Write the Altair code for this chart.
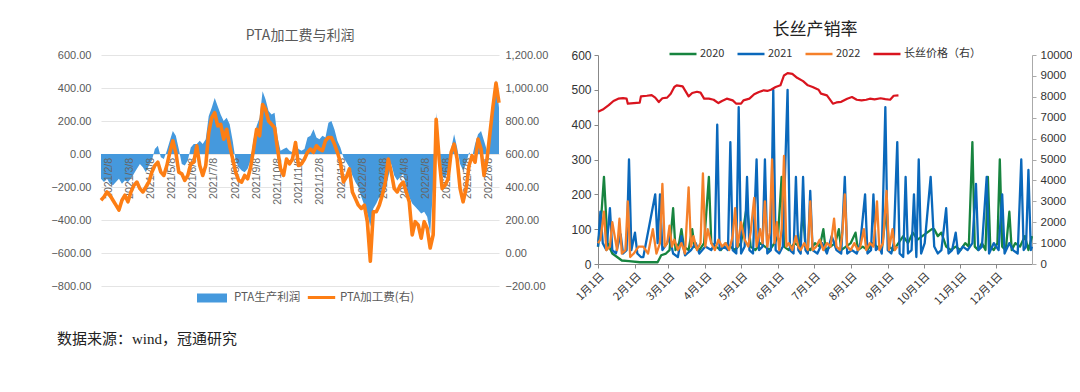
import altair as alt
import pandas as pd

FONT = "Liberation Sans, Noto Sans CJK SC, sans-serif"
CJK = "Noto Sans CJK SC, Liberation Sans, sans-serif"

# ---------------- Left chart: PTA processing fee & profit ----------------
profit = [-150, -170, -150, -180, -190, -170, -150, -180, -160, -170,
          -150, -120, -90, -60, -80, -110, -70, -40, 30, 50,
          -20, -30, 20, 80, 140, 110, 30, -60, -70, -40,
          40, 60, 60, 80, 60, 90, 230, 280, 340, 290,
          240, 200, 220, 180, 80, -40, -80, -100, -110, -90,
          -40, 90, 170, 220, 380, 330, 260, 240, 250, 100,
          20, 30, 40, 20, 10, 60, 30, 20, 30,
          100, 110, 150, 100, 90, 110, 100, 190, 200, 150,
          80, 40, -20, -50, -80, -130, -170, -200, -260, -310,
          -360, -440, -330, -300, -260, -270, -220, -140, -60, -130,
          -160, -140, -120, -200, -260, -300, -320, -340, -360, -350,
          -380, -480, -200, 250, -60, -130, -150, -90, 30, 120,
          40, -60, -100, -60, 10, -20, 60, 120, 140, 80,
          20, 180, 300, 450, 280]

fee = [320, 340, 370, 350, 320, 290, 260, 320, 350, 310,
       370, 410, 430, 390, 370, 400, 430, 490, 530, 550,
       490, 470, 530, 610, 680, 610, 490, 480, 440, 470,
       540, 550, 650, 530, 470, 530, 730, 820, 850, 770,
       780, 690, 750, 650, 570, 490, 440, 430, 470, 450,
       520, 630, 750, 710, 900, 870, 800, 780, 760, 630,
       510, 470, 570, 540, 570, 670, 530, 540, 570,
       610, 630, 610, 650, 630, 620, 680, 700, 700, 660,
       610, 550, 430, 460, 510, 370, 330, 290, 270, 290,
       190, -50, 250, 250, 290, 350, 430, 570, 490, 390,
       370, 410, 430, 370, 310, 110, 190, 170, 90, 190,
       150, 30, 110, 810, 570, 390, 410, 450, 610, 660,
       570, 390, 310, 390, 530, 590, 550, 690, 630, 470,
       570, 730, 890, 1030, 910]

label_pos = [2.6, 9.7, 16.7, 23.8, 30.9, 37.9, 45.0, 52.1, 59.2, 66.2,
             73.3, 80.4, 87.4, 94.5, 101.6, 108.6, 115.7, 122.8, 129.8]
label_text = ["2021/2/8", "2021/3/8", "2021/4/8", "2021/5/8", "2021/6/8",
              "2021/7/8", "2021/8/8", "2021/9/8", "2021/10/8", "2021/11/8",
              "2021/12/8", "2022/1/8", "2022/2/8", "2022/3/8", "2022/4/8",
              "2022/5/8", "2022/6/8", "2022/7/8", "2022/8/8"]

left_ticks = [-800, -600, -400, -200, 0, 200, 400, 600]
right_ticks = [-200, 0, 200, 400, 600, 800, 1000, 1200]

profit_df = pd.DataFrame({"i": list(range(len(profit))), "v": profit, "s": "PTA生产利润"})
fee_df = pd.DataFrame({"i": list(range(len(fee))), "v": fee, "s": "PTA加工费(右)"})
lab_df = pd.DataFrame({"i": label_pos, "t": label_text, "v": 0})

xl_scale = alt.Scale(domain=[0, 133], nice=False, zero=False)
yl_scale = alt.Scale(domain=[-800, 600], nice=False)

area = alt.Chart(profit_df).mark_area(opacity=1).encode(
    x=alt.X("i:Q", scale=xl_scale, axis=None),
    y=alt.Y("v:Q", scale=yl_scale,
            axis=alt.Axis(orient="left", values=left_ticks, format=".2f", title=None,
                          domain=False, ticks=False, grid=True, gridColor="#e4e4e4",
                          gridWidth=1.2, labelColor="#595959", labelFontSize=11,
                          labelPadding=10, labelFont=FONT, labelOverlap=False)),
    color=alt.Color("s:N", scale=alt.Scale(range=["#4599dd"]),
                    legend=alt.Legend(orient="none", legendX=95, legendY=227, title=None,
                                      symbolType="M-1,-0.3H1V0.3H-1Z", symbolSize=900,
                                      symbolOpacity=1, labelFontSize=11.5,
                                      labelColor="#595959", labelFont=CJK, labelOffset=6,
                                      padding=0)),
)

labels = alt.Chart(lab_df).mark_text(angle=270, align="right", baseline="middle", dx=-4,
                                     fontSize=10.5, color="#666666", font=FONT).encode(
    x=alt.X("i:Q", scale=xl_scale, axis=None),
    y=alt.Y("v:Q", scale=yl_scale, axis=None),
    text="t:N",
)

fee_line = alt.Chart(fee_df).mark_line(strokeWidth=3.6, strokeJoin="round").encode(
    x=alt.X("i:Q", scale=xl_scale, axis=None),
    y=alt.Y("v:Q", scale=alt.Scale(domain=[-200, 1200], nice=False),
            axis=alt.Axis(orient="right", values=right_ticks, format=",.2f", title=None,
                          domain=False, ticks=False, grid=False, labelColor="#595959",
                          labelFontSize=11, labelPadding=6, labelFont=FONT,
                          labelOverlap=False)),
    stroke=alt.Stroke("s:N", scale=alt.Scale(range=["#fd7e14"]),
                      legend=alt.Legend(orient="none", legendX=205, legendY=227, title=None,
                                        symbolType="stroke", symbolSize=750,
                                        symbolStrokeWidth=3, labelFontSize=11.5,
                                        labelColor="#595959", labelFont=CJK,
                                        labelOffset=3, padding=0)),
)

left = alt.layer(area, labels, fee_line).resolve_scale(
    y="independent", color="independent", stroke="independent"
).properties(
    width=398, height=231,
    title=alt.TitleParams("PTA加工费与利润", fontSize=14, color="#595959", font=CJK,
                          fontWeight="normal", offset=6),
)

# ---------------- Right chart: filament production/sales rate ----------------
s2020 = [(0, 50), (3, 150), (5, 250), (8, 60), (12, 30), (16, 20), (20, 10), (26, 8),
         (35, 5), (42, 5), (50, 5), (53, 25), (57, 30), (60, 40), (63, 160), (65, 40),
         (68, 60), (70, 100), (72, 50), (76, 40), (79, 100), (81, 50), (85, 40), (89, 60),
         (93, 250), (95, 60), (99, 50), (103, 40), (107, 60), (111, 50), (115, 40),
         (120, 60), (125, 170), (128, 50), (132, 40), (136, 60), (140, 50), (144, 40),
         (148, 60), (151, 80), (154, 250), (156, 50), (160, 40), (165, 60), (169, 50),
         (172, 150), (174, 50), (178, 40), (182, 60), (186, 50), (189, 100), (191, 40),
         (195, 50), (199, 60), (202, 100), (204, 40), (208, 50), (212, 60), (216, 90),
         (218, 40), (222, 50), (226, 40), (230, 60), (234, 50), (238, 40), (242, 160),
         (244, 50), (248, 40), (252, 60), (256, 80), (260, 60), (264, 90), (268, 70),
         (272, 80), (276, 90), (280, 100), (282, 100), (285, 80), (288, 90), (292, 50),
         (296, 40), (300, 50), (304, 40), (308, 60), (311, 50), (314, 350), (316, 50),
         (319, 40), (322, 60), (325, 40), (327, 250), (329, 50), (332, 40), (335, 60),
         (337, 300), (339, 50), (342, 40), (345, 150), (347, 40), (350, 60), (354, 50),
         (358, 80), (361, 40), (364, 80)]

s2021 = [(0, 50), (2, 150), (4, 60), (7, 40), (10, 160), (12, 40), (15, 30), (19, 85),
         (21, 30), (24, 40), (26, 300), (28, 40), (31, 90), (33, 30), (36, 20), (38, 20),
         (48, 200), (50, 60), (52, 200), (54, 40), (58, 60), (60, 80), (63, 30), (67, 20),
         (70, 80), (73, 25), (78, 40), (82, 60), (85, 30), (90, 50), (95, 40), (98, 60),
         (100, 400), (102, 40), (106, 50), (109, 40), (111, 350), (113, 40), (116, 30),
         (118, 450), (120, 30), (123, 50), (125, 250), (127, 40), (130, 30), (133, 300),
         (135, 40), (138, 50), (140, 300), (142, 30), (145, 40), (147, 500), (149, 40),
         (152, 30), (155, 50), (159, 500), (161, 40), (164, 30), (166, 250), (168, 40),
         (170, 30), (172, 250), (174, 40), (176, 30), (178, 210), (180, 40), (184, 30),
         (188, 60), (192, 30), (196, 80), (200, 40), (204, 30), (207, 250), (209, 30),
         (213, 40), (217, 30), (220, 60), (224, 200), (226, 30), (229, 40), (231, 200),
         (233, 40), (236, 50), (238, 30), (241, 450), (243, 40), (246, 30), (248, 60),
         (251, 350), (253, 30), (256, 20), (258, 250), (260, 30), (263, 40), (265, 200),
         (267, 20), (269, 300), (271, 30), (274, 60), (279, 250), (282, 50), (285, 30),
         (288, 40), (292, 160), (294, 30), (297, 40), (300, 90), (302, 30), (306, 50),
         (310, 40), (314, 60), (317, 230), (319, 40), (322, 50), (326, 250), (328, 30),
         (332, 60), (336, 40), (339, 200), (341, 30), (345, 60), (348, 40), (352, 30),
         (355, 300), (357, 40), (359, 50), (361, 270), (363, 40), (364, 50)]

s2022 = [(0, 60), (2, 70), (5, 150), (7, 40), (10, 50), (12, 120), (14, 80), (16, 40),
         (18, 130), (20, 30), (23, 40), (25, 180), (27, 20), (30, 30), (34, 50), (38, 50),
         (42, 30), (46, 100), (49, 30), (52, 60), (54, 230), (56, 50), (58, 60), (60, 110),
         (62, 50), (64, 70), (67, 40), (70, 60), (73, 30), (76, 220), (78, 50), (80, 80),
         (83, 40), (86, 60), (88, 260), (90, 50), (92, 100), (95, 60), (98, 40), (101, 70),
         (104, 50), (107, 60), (110, 40), (113, 80), (115, 160), (117, 50), (120, 120),
         (123, 70), (126, 50), (128, 90), (131, 190), (133, 50), (136, 100), (138, 60),
         (140, 180), (142, 50), (144, 90), (146, 300), (148, 60), (150, 120), (152, 40),
         (154, 100), (156, 310), (158, 50), (160, 60), (163, 40), (166, 80), (168, 50),
         (170, 40), (173, 60), (176, 40), (178, 180), (180, 40), (183, 50), (186, 70),
         (189, 40), (192, 60), (195, 50), (198, 130), (200, 50), (203, 40), (205, 90),
         (207, 200), (209, 50), (212, 40), (215, 60), (218, 40), (220, 50), (223, 100),
         (225, 40), (228, 60), (231, 50), (234, 180), (236, 40), (239, 60), (242, 210),
         (244, 40), (247, 100), (249, 40), (251, 50)]

price = [(0, 7280), (4, 7390), (9, 7600), (13, 7800), (17, 7910), (21, 7940), (24, 7910),
         (25, 7670), (30, 7700), (35, 7720), (36, 8020), (41, 8050), (45, 8080), (48, 7960),
         (51, 7750), (54, 7930), (58, 7960), (61, 8150), (64, 8470), (66, 8550), (71, 8500),
         (73, 8310), (76, 8020), (79, 8180), (83, 8240), (86, 8200), (89, 7910), (93, 7910),
         (97, 7860), (101, 7700), (104, 7800), (108, 7910), (113, 7830), (116, 7670),
         (120, 7670), (122, 7830), (127, 7910), (131, 8120), (135, 8230), (139, 8310),
         (142, 8280), (145, 8340), (149, 8470), (153, 8550), (156, 9020), (159, 9130),
         (163, 9100), (167, 8910), (172, 8750), (176, 8550), (180, 8470), (185, 8340),
         (187, 8150), (192, 8070), (194, 7910), (197, 7670), (200, 7730), (204, 7760),
         (209, 7910), (213, 7990), (217, 7860), (221, 7830), (225, 7860), (228, 7910),
         (232, 7880), (237, 7930), (241, 7890), (245, 7860), (248, 8050), (252, 8070)]

series_names = ["2020", "2021", "2022", "长丝价格（右）"]
series_colors = ["#17843f", "#0a68bb", "#f5802a", "#d9141e"]
BASE = pd.Timestamp("2022-01-01")


def rows(pairs, name):
    return [{"date": (BASE + pd.Timedelta(days=d)).strftime("%Y-%m-%dT%H:%M:%S"),
             "value": v, "series": name} for d, v in pairs]


rate_df = pd.DataFrame(rows(s2020, "2020") + rows(s2021, "2021") + rows(s2022, "2022"))
price_df = pd.DataFrame(rows(price, "长丝价格（右）"))

xr = alt.X("date:T",
           scale=alt.Scale(domain=[alt.DateTime(year=2022, month=1, date=1),
                                   alt.DateTime(year=2022, month=12, date=31)]),
           axis=alt.Axis(values=[alt.DateTime(year=2022, month=m, date=1) for m in range(1, 13)],
                         format="%-m月%-d日", labelAngle=-45, title=None, grid=False,
                         domainColor="#888888", tickColor="#888888", tickSize=4,
                         labelFontSize=11, labelColor="#333333", labelFont=CJK,
                         labelPadding=2, labelOverlap=False))

color = alt.Color("series:N", sort=series_names,
                  scale=alt.Scale(domain=series_names, range=series_colors),
                  legend=alt.Legend(orient="none", legendX=70, legendY=-16, direction="horizontal",
                                    title=None, symbolType="stroke", symbolSize=729,
                                    symbolStrokeWidth=2.5, labelFontSize=11,
                                    labelColor="#333333", labelFont=CJK, labelOffset=2,
                                    columnPadding=7, padding=0))

rate = alt.Chart(rate_df).mark_line(strokeWidth=2.3, strokeJoin="round").encode(
    x=xr,
    y=alt.Y("value:Q", scale=alt.Scale(domain=[0, 600], nice=False),
            axis=alt.Axis(values=[0, 100, 200, 300, 400, 500, 600], title=None, grid=False,
                          domainColor="#888888", tickColor="#888888", tickSize=4,
                          labelFontSize=12, labelColor="#333333", labelFont=FONT,
                          labelPadding=3, labelOverlap=False)),
    color=color,
)

price_line = alt.Chart(price_df).mark_line(strokeWidth=2.2, strokeJoin="round").encode(
    x=xr,
    y=alt.Y("value:Q", scale=alt.Scale(domain=[0, 10000], nice=False),
            axis=alt.Axis(orient="right", values=list(range(0, 10001, 1000)), format="d",
                          title=None, grid=False, domainColor="#aaaaaa", tickColor="#aaaaaa",
                          tickSize=4, labelFontSize=11.5, labelColor="#333333", labelFont=FONT,
                          labelPadding=4, labelOverlap=False)),
    color=color,
)

right = alt.layer(rate, price_line).resolve_scale(y="independent").properties(
    width=434, height=209,
    title=alt.TitleParams("长丝产销率", fontSize=17, color="#222222", font=CJK,
                          fontWeight="normal", offset=0),
)

chart = alt.hconcat(left, right, spacing=22).resolve_scale(color="independent").properties(
    title=alt.TitleParams("数据来源：wind，冠通研究", orient="bottom", anchor="start",
                          fontSize=15, color="#222222", font="Liberation Serif, Noto Sans CJK SC",
                          fontWeight="normal", offset=26, dx=6),
    padding={"left": 42, "top": 13, "right": 0, "bottom": 5},
).configure_view(stroke=None)

chart.save("out.html", embed_options={"renderer": "svg", "actions": False})
